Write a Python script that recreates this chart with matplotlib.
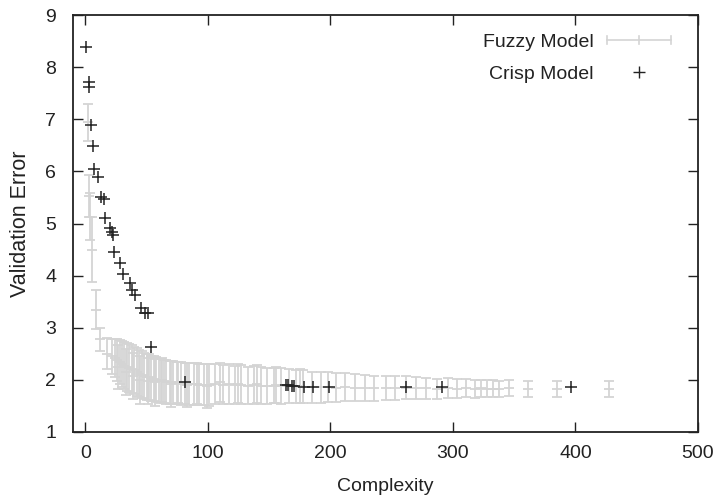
import matplotlib
matplotlib.use("Agg")
import matplotlib.pyplot as plt
from matplotlib.legend_handler import HandlerBase
from matplotlib.lines import Line2D

plt.rcParams['font.family'] = ['Liberation Sans', 'DejaVu Sans']

# Crisp model (black +)
crisp_x = [1, 2.7, 3.3, 4.6, 6.3, 7.3, 10, 13, 15, 16.3, 20.4, 21.5, 22.3, 23.1, 28.5,
           30.7, 36.2, 38, 40.5, 45.4, 48.9, 50.8, 53.8, 81, 164, 165.8, 168.6, 170.7,
           178.6, 186.2, 198.5, 261.6, 291, 396]
crisp_y = [8.38, 7.72, 7.61, 6.89, 6.49, 6.04, 5.90, 5.51, 5.47, 5.10, 4.91, 4.84, 4.78,
           4.45, 4.25, 4.04, 3.85, 3.72, 3.63, 3.37, 3.29, 3.29, 2.63, 1.95, 1.91, 1.90,
           1.88, 1.88, 1.87, 1.87, 1.87, 1.87, 1.86, 1.86]

# Fuzzy model (gray error bars)
fuzzy_x = [2, 2.7, 4, 5.5, 8.7, 12, 17.7, 22, 24, 26, 28, 30, 32, 34, 36, 38, 40, 42, 44,
           46, 48, 50, 52, 54, 56, 58, 60, 62, 64, 66, 69, 72, 75, 78, 81, 85, 89, 93, 97,
           101, 106, 112, 117, 122, 127, 133, 138, 143, 148, 154, 160, 166, 172, 178, 185,
           192, 198, 205, 212, 220, 228, 236, 245, 253, 262, 270, 278, 287, 296, 303, 311,
           318, 323, 328, 333, 338, 346, 361, 385, 427,
           27, 33, 39, 45, 51, 57, 63, 70, 76, 83, 91, 99, 110, 125, 140, 156, 175]
fuzzy_y = [6.94, 5.53, 5.13, 4.50, 3.35, 2.78, 2.50, 2.45, 2.42, 2.38, 2.34, 2.30, 2.27,
           2.24, 2.22, 2.20, 2.18, 2.15, 2.12, 2.10, 2.08, 2.06, 2.05, 2.03, 2.02, 2.00,
           1.99, 1.98, 1.97, 1.96, 1.95, 1.95, 1.94, 1.93, 1.93, 1.92, 1.92, 1.91, 1.91,
           1.90, 1.92, 1.91, 1.92, 1.90, 1.91, 1.89, 1.90, 1.89, 1.88, 1.89, 1.88, 1.88,
           1.87, 1.87, 1.86, 1.86, 1.86, 1.85, 1.86, 1.85, 1.85, 1.84, 1.85, 1.84, 1.85,
           1.84, 1.84, 1.83, 1.84, 1.83, 1.84, 1.83, 1.84, 1.83, 1.83, 1.83, 1.84, 1.83,
           1.82, 1.82,
           2.25, 2.15, 2.08, 2.00, 1.98, 1.95, 2.00, 1.92, 1.95, 1.90, 1.93, 1.88, 1.95,
           1.93, 1.92, 1.90, 1.88]
fuzzy_err = [0.35, 0.40, 0.45, 0.62, 0.37, 0.22, 0.30, 0.33, 0.36, 0.40, 0.42, 0.44, 0.45,
             0.46, 0.46, 0.46, 0.46, 0.46, 0.45, 0.45, 0.44, 0.44, 0.44, 0.43, 0.43, 0.43,
             0.42, 0.42, 0.42, 0.42, 0.41, 0.41, 0.41, 0.41, 0.40, 0.40, 0.40, 0.40, 0.40,
             0.40, 0.39, 0.38, 0.38, 0.37, 0.37, 0.36, 0.36, 0.35, 0.35, 0.34, 0.34, 0.33,
             0.32, 0.31, 0.30, 0.30, 0.29, 0.28, 0.27, 0.26, 0.25, 0.24, 0.23, 0.23, 0.22,
             0.21, 0.20, 0.19, 0.19, 0.18, 0.17, 0.17, 0.16, 0.16, 0.16, 0.15, 0.15, 0.15,
             0.15, 0.15,
             0.42, 0.44, 0.44, 0.46, 0.44, 0.45, 0.42, 0.44, 0.40, 0.42, 0.39, 0.42, 0.37,
             0.38, 0.36, 0.35, 0.33]

x_ticks = [0, 100, 200, 300, 400, 500]
y_ticks = [1, 2, 3, 4, 5, 6, 7, 8, 9]

GRAY = '#d4d4d4'
INK = '#222222'

fig = plt.figure(figsize=(7.18, 5.04), dpi=100)
ax = fig.add_axes([73/718, 72/504, 625/718, 417/504])

ax.errorbar(fuzzy_x, fuzzy_y, yerr=fuzzy_err, fmt='_', color=GRAY, ecolor=GRAY,
            elinewidth=1.3, capsize=3.5, capthick=1.3, markersize=7, mew=1.3, zorder=2)
ax.plot(crisp_x, crisp_y, '+', color=INK, markersize=9, mew=1.1, zorder=3)

ax.set_xlim(-10, 500)
ax.set_ylim(1, 9)
ax.set_xticks(x_ticks)
ax.set_yticks(y_ticks)
ax.tick_params(direction='in', length=7, width=1, top=True, right=True,
               labelsize=14, colors=INK)
ax.tick_params(axis='y', pad=12)
ax.tick_params(axis='x', pad=9)
for s in ax.spines.values():
    s.set_linewidth(1.3)
    s.set_color(INK)
ax.set_xlabel('Complexity', fontsize=14, color=INK, labelpad=12)
ax.set_ylabel('Validation Error', fontsize=15.5, color=INK, labelpad=10)


class FuzzyHandler(HandlerBase):
    def create_artists(self, legend, orig_handle, xdescent, ydescent, width, height,
                       fontsize, trans):
        y = height / 2 - ydescent
        x0, x1 = -xdescent, -xdescent + width
        h = 0.28 * height
        arts = [Line2D([x0, x1], [y, y], color=GRAY, lw=1.2, transform=trans)]
        for xx in (x0, (x0 + x1) / 2, x1):
            arts.append(Line2D([xx, xx], [y - h, y + h], color=GRAY, lw=1.2, transform=trans))
        return arts


class CrispHandler(HandlerBase):
    def create_artists(self, legend, orig_handle, xdescent, ydescent, width, height,
                       fontsize, trans):
        y = height / 2 - ydescent
        xm = -xdescent + width / 2
        return [Line2D([xm], [y], marker='+', color=INK, markersize=8, mew=1.0,
                       linestyle='none', transform=trans)]


h1 = Line2D([], [], color=GRAY)
h2 = Line2D([], [], color=INK)
ax.legend([h1, h2], ['Fuzzy Model', 'Crisp Model'],
          handler_map={h1: FuzzyHandler(), h2: CrispHandler()},
          loc='upper right', bbox_to_anchor=(0.985, 0.998), frameon=False,
          markerfirst=False, fontsize=14, handlelength=3.3, labelspacing=0.75,
          handletextpad=0.7, labelcolor=INK)

fig.savefig('out.png', dpi=100)
